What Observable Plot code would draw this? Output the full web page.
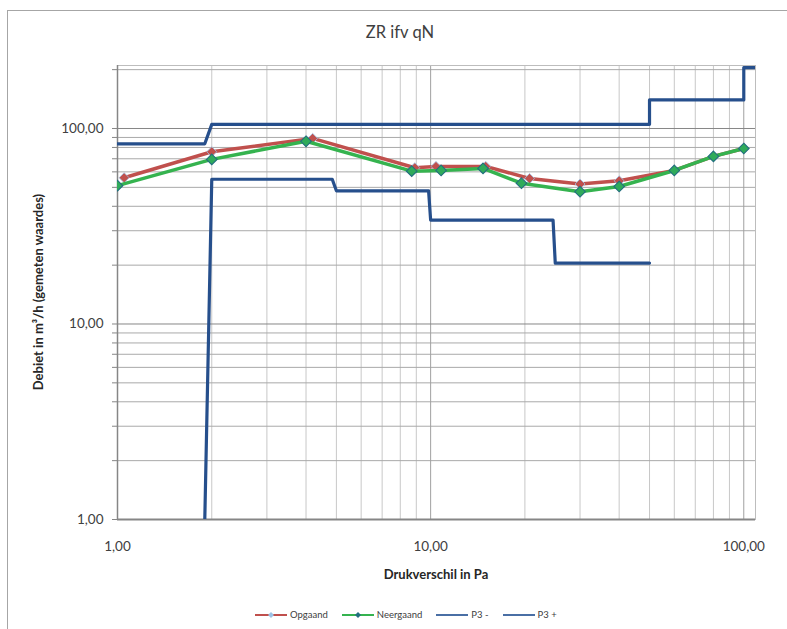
<!DOCTYPE html>
<html><head><meta charset="utf-8">
<script src="https://cdn.jsdelivr.net/npm/d3@7"></script>
<script src="https://cdn.jsdelivr.net/npm/@observablehq/plot@0.6"></script>
<style>
body{margin:0;background:#fff;font-family:Lato,"Open Sans",sans-serif;}
#wrap{position:relative;width:787px;height:629px;overflow:hidden;background:#fff;}
#border{position:absolute;left:7px;top:10px;width:820px;height:700px;border:1px solid #a6a6a6;}
#chart{position:absolute;left:0;top:0;}
#title{position:absolute;left:0;width:800px;top:22px;text-align:center;font-size:16.5px;color:#404040;}
#xtitle{position:absolute;left:0;width:872px;top:566px;text-align:center;font-size:13px;font-weight:bold;color:#262626;}
#ytitle{position:absolute;left:38px;top:292px;transform:translate(-50%,-50%) rotate(-90deg);white-space:nowrap;font-size:13px;font-weight:bold;color:#262626;}
#legend{position:absolute;left:255px;top:609px;display:flex;align-items:center;font-size:9.5px;color:#404040;}
#legend .it{display:flex;align-items:center;margin-right:14px;}
#legend svg{margin-right:3px;}
</style></head>
<body>
<div id="wrap">
  <div id="border"></div>
  <div id="chart"></div>
  <div id="title">ZR ifv qN</div>
  <div id="ytitle">Debiet in m³/h (gemeten waardes)</div>
  <div id="xtitle">Drukverschil in Pa</div>
  <div id="legend"></div>
</div>
<script>
// ---- data ----
const opgaandX = [1.05, 2, 4.2, 8.9, 10.4, 15, 20.7, 30, 40, 60, 80, 100];
const opgaandY = [56, 76, 89, 63, 64, 64, 55.5, 52, 54, 61, 72, 79];
const neergaandX = [1, 2, 4, 8.7, 10.8, 14.7, 19.5, 30, 40, 60, 80, 100];
const neergaandY = [51, 69.5, 86, 60.5, 61, 62.5, 52.5, 47.5, 50.5, 61, 72, 79];
const p3MinX = [1.9, 2, 4.85, 5, 9.85, 10, 24.6, 25, 50];
const p3MinY = [1, 55, 55, 48, 48, 34, 34, 20.5, 20.5];
const p3PlusX = [1, 1.9, 2, 50, 50, 100, 100, 109];
const p3PlusY = [83.5, 83.5, 105, 105, 140, 140, 205, 205];
const seriesNames = ["Opgaand", "Neergaand", "P3 -", "P3 +"];
const xMajor = [1, 10, 100];
const xTickLabels = ["1,00", "10,00", "100,00"];
const xMinor = [2,3,4,5,6,7,8,9,20,30,40,50,60,70,80,90];
const yMajor = [1, 10, 100];
const yTickLabels = ["1,00", "10,00", "100,00"];
const yMinor = [2,3,4,5,6,7,8,9,20,30,40,50,60,70,80,90,200];

const colRed = "#c0504d", colGreen = "#35b34f", colBlue = "#264f8c";
const pts = (xs, ys) => xs.map((x, i) => ({x, y: ys[i]}));
const opg = pts(opgaandX, opgaandY);
const neer = pts(neergaandX, neergaandY);
const p3m = pts(p3MinX, p3MinY);
const p3p = pts(p3PlusX, p3PlusY);
const yAll = yMajor.concat(yMinor).sort((a,b)=>a-b);

const chart = Plot.plot({
  width: 787, height: 629,
  marginTop: 65, marginBottom: 110, marginLeft: 117, marginRight: 32,
  style: {fontFamily: "Lato, 'Open Sans', sans-serif", fontSize: "13.5px", color: "#404040", background: "transparent"},
  x: {type: "log", domain: [1, 109]},
  y: {type: "log", domain: [1, 210]},
  marks: [
    Plot.gridX(xMinor, {stroke: "#c8c8c8", strokeOpacity: 1}),
    Plot.gridY(yMinor, {stroke: "#a9a9a9", strokeOpacity: 1}),
    Plot.gridX(xMajor, {stroke: "#a0a0a0", strokeOpacity: 1}),
    Plot.gridY(yMajor, {stroke: "#868686", strokeOpacity: 1}),
    Plot.frame({stroke: "#bdbdbd"}),
    Plot.axisY(yAll, {tickSize: 5, tickPadding: 9, stroke: "#868686",
      tickFormat: d => { const i = yMajor.indexOf(d); return i >= 0 ? yTickLabels[i] : ""; }, label: null}),
    Plot.axisX(xMajor, {tickSize: 0, tickPadding: 22,
      tickFormat: d => xTickLabels[xMajor.indexOf(d)], label: null}),
    Plot.ruleX([1], {stroke: "#868686", strokeWidth: 1.5}),
    Plot.ruleY([1], {stroke: "#868686", strokeWidth: 2}),
    Plot.line(opg, {x: "x", y: "y", stroke: colRed, strokeWidth: 3.5, clip: true}),
    Plot.dot(opg, {x: "x", y: "y", symbol: "diamond2", r: 4.5, fill: colRed, stroke: "#9dc3e6", strokeWidth: 0.8, clip: true}),
    Plot.line(neer, {x: "x", y: "y", stroke: colGreen, strokeWidth: 3.5, clip: true}),
    Plot.dot(neer, {x: "x", y: "y", symbol: "diamond2", r: 4.8, fill: "#2fab5a", stroke: "#236f7f", strokeWidth: 1.1, clip: true}),
    Plot.line(p3m, {x: "x", y: "y", stroke: colBlue, strokeWidth: 3.2, clip: true}),
    Plot.line(p3p, {x: "x", y: "y", stroke: colBlue, strokeWidth: 3.2, clip: true})
  ]
});
document.getElementById("chart").appendChild(chart);

// legend
const legendDefs = [
  {name: seriesNames[0], color: colRed, marker: "#9dc3e6"},
  {name: seriesNames[1], color: colGreen, marker: "#236f7f"},
  {name: seriesNames[2], color: "#4a6fa5", marker: null},
  {name: seriesNames[3], color: "#4a6fa5", marker: null}
];
const leg = document.getElementById("legend");
legendDefs.forEach(d => {
  const it = document.createElement("div");
  it.className = "it";
  let s = `<svg width="32" height="10"><line x1="0" x2="32" y1="5" y2="5" stroke="${d.color}" stroke-width="2"/>`;
  if (d.marker) s += `<path d="M16 2 L19 5 L16 8 L13 5 Z" fill="${d.marker}"/>`;
  s += `</svg><span>${d.name}</span>`;
  it.innerHTML = s;
  leg.appendChild(it);
});
</script>
</body></html>
